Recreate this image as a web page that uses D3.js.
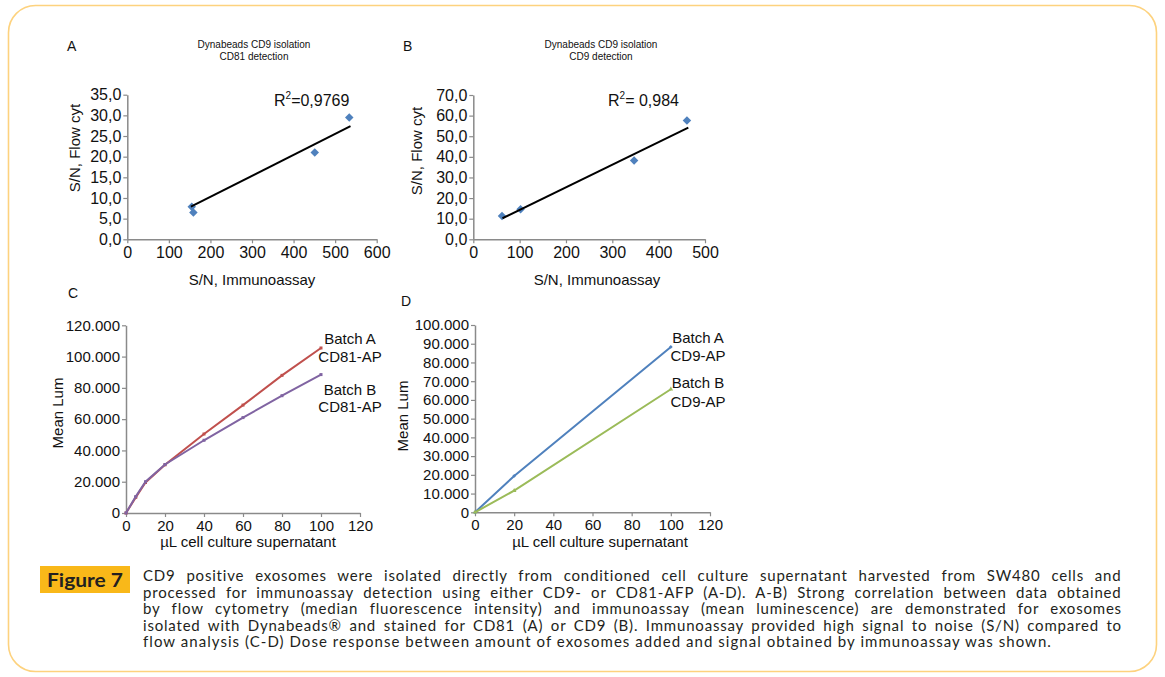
<!DOCTYPE html>
<html>
<head>
<meta charset="utf-8">
<script src="https://cdn.jsdelivr.net/npm/d3@7"></script>
<style>
  html, body { margin: 0; padding: 0; background: #fff; }
  svg { display: block; }
  text { font-family: "Liberation Sans", Arial, sans-serif; fill: #111; }
  .cap { font-family: Lato, "Liberation Sans", sans-serif; fill: #231f20; }
</style>
</head>
<body>
<svg id="chart" width="1165" height="677"></svg>
<script>
// ---------- DATA ----------
// Panel A: Dynabeads CD9 isolation, CD81 detection
const aImmuno = [155, 159, 451, 534];
const aFlow = [7.9, 6.5, 21.0, 29.5];
const aTrendX = [153, 537];
const aTrendY = [7.9, 27.4];
const aXTicks = [0, 100, 200, 300, 400, 500, 600];
const aYTicks = [0, 5, 10, 15, 20, 25, 30, 35];

// Panel B: Dynabeads CD9 isolation, CD9 detection
const bImmuno = [62, 102, 347, 461];
const bFlow = [11.3, 14.6, 38.2, 57.6];
const bTrendX = [63, 464];
const bTrendY = [10.2, 54.2];
const bXTicks = [0, 100, 200, 300, 400, 500];
const bYTicks = [0, 10, 20, 30, 40, 50, 60, 70];

// Panel C: CD81-AP dose response
const cVolume = [0, 5, 10, 20, 40, 60, 80, 100];
const cBatchA = [0, 10000, 19500, 30800, 50500, 69000, 88000, 105500];
const cBatchB = [0, 10500, 20000, 31000, 46500, 61000, 75000, 88500];
const cXTicks = [0, 20, 40, 60, 80, 100, 120];
const cYTicks = [0, 20000, 40000, 60000, 80000, 100000, 120000];

// Panel D: CD9-AP dose response
const dVolume = [0, 20, 100];
const dBatchA = [0, 19400, 88300];
const dBatchB = [0, 11600, 65700];
const dXTicks = [0, 20, 40, 60, 80, 100, 120];
const dYTicks = [0, 10000, 20000, 30000, 40000, 50000, 60000, 70000, 80000, 90000, 100000];

const captionLines = [
  "CD9 positive exosomes were isolated directly from conditioned cell culture supernatant harvested from SW480 cells and",
  "processed for immunoassay detection using either CD9- or CD81-AFP (A-D). A-B) Strong correlation between data obtained",
  "by flow cytometry (median fluorescence intensity) and immunoassay (mean luminescence) are demonstrated for exosomes",
  "isolated with Dynabeads\u00AE and stained for CD81 (A) or CD9 (B). Immunoassay provided high signal to noise (S/N) compared to",
  "flow analysis (C-D) Dose response between amount of exosomes added and signal obtained by immunoassay was shown."
];

// ---------- DRAWING ----------
const svg = d3.select("#chart");
const locale = d3.formatLocale({decimal: ",", thousands: ".", grouping: [3], currency: ["", ""]});
const fmt1 = locale.format(".1f");
const fmtK = v => v === 0 ? "0" : locale.format(",.0f")(v);

// frame
svg.append("rect").attr("x", 8.5).attr("y", 5.5).attr("width", 1148).attr("height", 666)
  .attr("rx", 27).attr("ry", 27).attr("fill", "none").attr("stroke", "#fdd27e").attr("stroke-width", 1.6);

const AX = "#8a8a8a";
function drawAxes(x, y, xt, yt, yfmt, fs) {
  const gx = svg.append("g").attr("transform", `translate(0,${y.range()[0]})`)
    .call(d3.axisBottom(x).tickValues(xt).tickSize(4).tickSizeOuter(0).tickPadding(3).tickFormat(d => d));
  const gy = svg.append("g").attr("transform", `translate(${x.range()[0]},0)`)
    .call(d3.axisLeft(y).tickValues(yt).tickSize(4).tickSizeOuter(0).tickPadding(2).tickFormat(yfmt));
  [gx, gy].forEach(g => {
    g.select(".domain").attr("stroke", AX).attr("stroke-width", 1.5);
    g.selectAll(".tick line").attr("stroke", AX).attr("stroke-width", 1.2);
    g.selectAll(".tick text").attr("font-size", fs).attr("fill", "#111")
      .attr("font-family", "Liberation Sans, Arial, sans-serif");
  });
}
function label(txt, x, y, size, anchor, rot) {
  const t = svg.append("text").attr("font-size", size).attr("text-anchor", anchor || "middle").text(txt);
  if (rot) t.attr("transform", `translate(${x},${y}) rotate(-90)`);
  else t.attr("x", x).attr("y", y);
  return t;
}
const diamond = d3.symbol().type(d3.symbolDiamond2).size(46);

function scatterPanel(xs, ys, tx, ty, xr, yr, xd, yd, xt, yt, r2, r2x) {
  const x = d3.scaleLinear().domain(xd).range(xr);
  const y = d3.scaleLinear().domain(yd).range(yr);
  drawAxes(x, y, xt, yt, fmt1, 16);
  svg.append("g").selectAll("path").data(xs.map((v, i) => [v, ys[i]])).join("path")
    .attr("d", diamond).attr("fill", "#4f81bd")
    .attr("transform", d => `translate(${x(d[0])},${y(d[1])})`);
  svg.append("path").datum(tx.map((v, i) => [v, ty[i]]))
    .attr("d", d3.line().x(d => x(d[0])).y(d => y(d[1])))
    .attr("stroke", "#000").attr("stroke-width", 2).attr("fill", "none");
  const t = svg.append("text").attr("x", r2x).attr("y", 106).attr("font-size", 16);
  t.append("tspan").text("R");
  t.append("tspan").attr("dy", -7).attr("font-size", 10).text("2");
  t.append("tspan").attr("dy", 7).text(r2);
}

scatterPanel(aImmuno, aFlow, aTrendX, aTrendY, [127.3, 376.7], [239.3, 94.7], [0, 600], [0, 35],
  aXTicks, aYTicks, "=0,9769", 274);
scatterPanel(bImmuno, bFlow, bTrendX, bTrendY, [473.3, 705], [239.3, 95], [0, 500], [0, 70],
  bXTicks, bYTicks, "= 0,984", 608);

// titles A/B
label("A", 67, 51, 14, "start");
label("B", 403, 51, 14, "start");
label("Dynabeads CD9 isolation", 254, 48, 10);
label("CD81 detection", 254, 60, 10);
label("Dynabeads CD9 isolation", 601, 48, 10);
label("CD9 detection", 601, 60, 10);
label("S/N, Immunoassay", 252, 285, 15);
label("S/N, Immunoassay", 597, 285, 15);
label("S/N, Flow cyt", 80, 148, 15, "middle", true);
label("S/N, Flow cyt", 422, 151, 15, "middle", true);

function linePanel(xs, s1, s2, c1, c2, m1, m2, xr, yr, xd, yd, xt, yt) {
  const x = d3.scaleLinear().domain(xd).range(xr);
  const y = d3.scaleLinear().domain(yd).range(yr);
  drawAxes(x, y, xt, yt, fmtK, 15);
  [[s1, c1, m1], [s2, c2, m2]].forEach(([s, c, m]) => {
    const pts = xs.map((v, i) => [v, s[i]]);
    svg.append("path").datum(pts)
      .attr("d", d3.line().x(d => x(d[0])).y(d => y(d[1])))
      .attr("stroke", c).attr("stroke-width", 2).attr("fill", "none");
    svg.append("g").selectAll("path").data(pts).join("path")
      .attr("d", d3.symbol().type(m).size(9)).attr("fill", c)
      .attr("transform", d => `translate(${x(d[0])},${y(d[1])})`);
  });
}

linePanel(cVolume, cBatchA, cBatchB, "#c0504d", "#8064a2", d3.symbolSquare, d3.symbolSquare,
  [126, 360], [513, 325.3], [0, 120], [0, 120000], cXTicks, cYTicks);
linePanel(dVolume, dBatchA, dBatchB, "#4f81bd", "#9bbb59", d3.symbolDiamond2, d3.symbolTriangle,
  [475, 710], [512.3, 325], [0, 120], [0, 100000], dXTicks, dYTicks);

label("C", 68, 298, 14, "start");
label("D", 401, 306, 14, "start");
label("Batch A", 350, 344, 15);
label("CD81-AP", 350, 362, 15);
label("Batch B", 350, 395, 15);
label("CD81-AP", 350, 412, 15);
label("Batch A", 698, 343, 15);
label("CD9-AP", 698, 361, 15);
label("Batch B", 698, 388, 15);
label("CD9-AP", 698, 407, 15);
label("Mean Lum", 63, 413, 15, "middle", true);
label("Mean Lum", 408, 416, 15, "middle", true);
label("\u00B5L cell culture supernatant", 248, 547, 15);
label("\u00B5L cell culture supernatant", 600, 547, 15);

// caption
svg.append("rect").attr("x", 40).attr("y", 566).attr("width", 90).attr("height", 27).attr("fill", "#f9b819");
svg.append("text").attr("class", "cap").attr("x", 47).attr("y", 587).attr("font-size", 18)
  .attr("font-weight", "bold").attr("textLength", 76).attr("lengthAdjust", "spacingAndGlyphs").text("Figure 7");
const capBase = [581, 597.5, 614, 630.5, 647];
const LS = 0.8;
captionLines.forEach((l, i) => {
  const t = svg.append("text").attr("class", "cap").attr("x", 143).attr("y", capBase[i])
    .attr("font-size", 15).text(l);
  const natural = t.node().getComputedTextLength();
  const spaces = (l.match(/ /g) || []).length;
  const target = i < 4 ? 979 : 909;
  if (i < 4) {
    const ws = (target - natural - LS * l.length) / spaces;
    t.style("letter-spacing", LS + "px").style("word-spacing", ws.toFixed(2) + "px");
  } else {
    t.style("letter-spacing", ((target - natural) / l.length).toFixed(3) + "px");
  }
});
</script>
</body>
</html>
